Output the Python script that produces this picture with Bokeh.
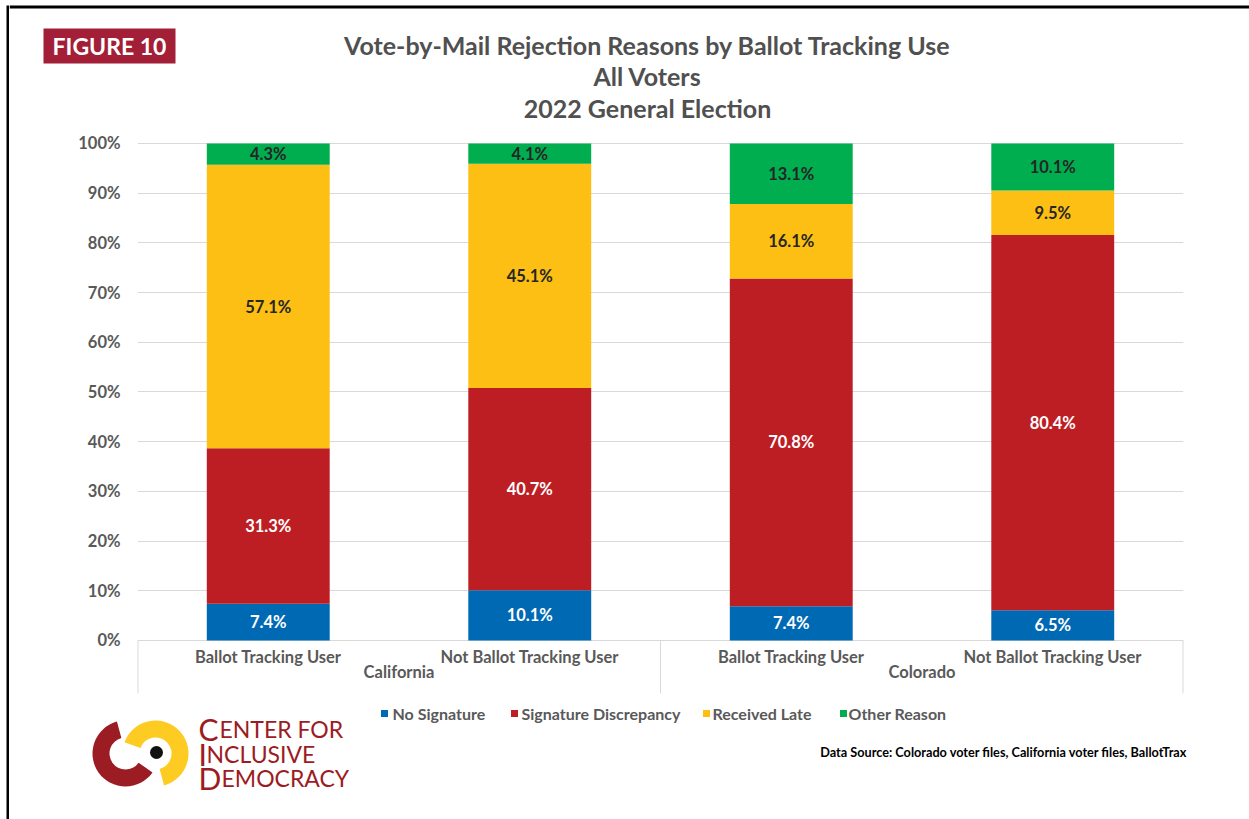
import numpy as np
from bokeh.plotting import figure
from bokeh.models import (ColumnDataSource, FactorRange, Range1d, FixedTicker,
                          PrintfTickFormatter)
from bokeh.layouts import column, row
from bokeh.core.properties import value
from bokeh.embed import file_html
from bokeh.resources import INLINE

# ---------------- data ----------------
groups = ["California", "California", "Colorado", "Colorado"]
subgroups = ["Ballot Tracking User", "Not Ballot Tracking User",
             "Ballot Tracking User", "Not Ballot Tracking User"]
series = ["No Signature", "Signature Discrepancy", "Received Late", "Other Reason"]
no_signature = [7.4, 10.1, 7.4, 6.5]
signature_discrepancy = [31.3, 40.7, 70.8, 80.4]
received_late = [57.1, 45.1, 16.1, 9.5]
other_reason = [4.3, 4.1, 13.1, 10.1]
y_ticks = [0, 10, 20, 30, 40, 50, 60, 70, 80, 90, 100]
title_lines = ["Vote-by-Mail Rejection Reasons by Ballot Tracking Use",
               "All Voters", "2022 General Election"]
figure_tag = "FIGURE 10"
source_note = "Data Source: Colorado voter files, California voter files, BallotTrax"
logo_caps = ["C", "I", "D"]
logo_rest = ["ENTER FOR", "NCLUSIVE", "EMOCRACY"]

# ---------------- styles ----------------
colors = ["#0069B4", "#BD1E24", "#FDBF13", "#00AE4F"]
label_colors = ["#FFFFFF", "#FFFFFF", "#262626", "#262626"]
FONT = value("Lato")
GRAY = "#595959"
GRID = "#D9D9D9"
WL = 9            # left strip holding the black page border
W = 1240          # width of the main column
PX_PER_UNIT = 4.97

factors = list(zip(groups, subgroups))
vals = np.array([no_signature, signature_discrepancy, received_late, other_reason])
pct = vals / vals.sum(axis=0) * 100.0          # 100% stacked, labels show raw values
tops = np.cumsum(pct, axis=0)
bottoms = tops - pct


def blank(width, height, **kw):
    f = figure(width=width, height=height, x_range=Range1d(0, width), y_range=Range1d(0, height),
               output_backend="svg", toolbar_location=None, min_border=0,
               x_axis_location=None, y_axis_location=None, outline_line_color=None,
               frame_align=False, **kw)
    f.grid.visible = False
    return f


# ---------------- left border strip ----------------
H_ALL = 819
pL = blank(WL, H_ALL)
pL.quad(left=[6], right=[9], bottom=[0], top=[H_ALL - 5], fill_color="#000000", line_color=None)

# ---------------- header figure ----------------
H0 = 128
p0 = blank(W, H0)
p0.quad(left=[0], right=[W], bottom=[H0 - 8], top=[H0 - 5], fill_color="#000000", line_color=None)
p0.quad(left=[34], right=[166], bottom=[65], top=[100], fill_color="#A21F37", line_color=None)
p0.text(x=[100], y=[82.5], text=[figure_tag], text_align="center", text_baseline="middle",
        text_font=FONT, text_font_style="bold", text_font_size="23px", text_color="#FFFFFF")
p0.text(x=[638, 638, 638], y=[84, 53, 21], text=title_lines, text_align="center",
        text_baseline="middle", text_font=FONT, text_font_style="bold",
        text_font_size="25px", text_color="#505050")

# ---------------- main chart ----------------
H1 = 572
mb_top, mb_bot = 13, 6
frame_h = H1 - mb_top - mb_bot
y_end = 100.4
y_start = y_end - frame_h / PX_PER_UNIT

p1 = figure(width=W, height=H1,
            x_range=FactorRange(factors=factors, group_padding=0, factor_padding=0, range_padding=0),
            y_range=Range1d(y_start, y_end),
            output_backend="svg", toolbar_location=None, x_axis_location=None,
            min_border_left=128, min_border_right=66, min_border_top=mb_top,
            min_border_bottom=mb_bot, outline_line_color=None, frame_align=False)
p1.xgrid.visible = False
p1.ygrid.grid_line_color = GRID
p1.ygrid.ticker = FixedTicker(ticks=y_ticks)
ax = p1.yaxis[0]
ax.ticker = FixedTicker(ticks=y_ticks)
ax.formatter = PrintfTickFormatter(format="%d%%")
ax.axis_line_color = None
ax.major_tick_line_color = None
ax.minor_tick_line_color = None
ax.major_label_standoff = 11
ax.major_label_text_font = "Lato"
ax.major_label_text_font_style = "bold"
ax.major_label_text_font_size = "16.5px"
ax.major_label_text_color = GRAY

for i, name in enumerate(series):
    src = ColumnDataSource(dict(
        x=factors, bottom=bottoms[i], top=tops[i],
        mid=(bottoms[i] + tops[i]) / 2.0,
        label=[f"{v:.1f}%" for v in vals[i]]))
    p1.vbar(x="x", width=0.47, bottom="bottom", top="top", source=src,
            fill_color=colors[i], line_color=None)
    p1.text(x="x", y="mid", text="label", source=src, text_align="center",
            text_baseline="middle", text_font=FONT, text_font_style="bold",
            text_font_size="16.5px", text_color=label_colors[i])

# category axis drawn in data space below 0
p1.text(x=factors, y=[-3.25] * len(factors), text=subgroups, text_align="center",
        text_baseline="middle", text_font=FONT, text_font_style="bold",
        text_font_size="16.5px", text_color=GRAY)
uniq = list(dict.fromkeys(groups))
gcenters = [np.mean([k + 0.5 for k, g in enumerate(groups) if g == u]) for u in uniq]
p1.text(x=gcenters, y=[-6.3] * len(uniq), text=uniq, text_align="center",
        text_baseline="middle", text_font=FONT, text_font_style="bold",
        text_font_size="16.5px", text_color=GRAY)
bounds = [0] + [k for k in range(1, len(groups)) if groups[k] != groups[k - 1]] + [len(groups)]
sep_bottom = -53 / PX_PER_UNIT
inner = bounds[1:-1]
p1.segment(x0=inner, x1=inner, y0=[0] * len(inner), y1=[sep_bottom] * len(inner),
           line_color=GRID, line_width=1)
edges = [bounds[0], bounds[-1]]
p1.segment(x0=edges, x1=edges, y0=[0, 0], y1=[sep_bottom] * 2, line_color=GRID, line_width=2)

# ---------------- footer figure ----------------
H2 = 119
p2 = blank(W, H2)
leg_sq_x = [375, 505, 697, 834]
leg_tx_x = [383, 512, 703, 839]
p2.rect(x=leg_sq_x, y=[106] * 4, width=7, height=7, fill_color=colors, line_color=None)
p2.text(x=leg_tx_x, y=[106] * 4, text=series, text_align="left", text_baseline="middle",
        text_font=FONT, text_font_style="bold", text_font_size="16px", text_color=GRAY)

# logo
p2.annular_wedge(x=[116], y=[66], inner_radius=16, outer_radius=33,
                 start_angle=np.deg2rad(105), end_angle=np.deg2rad(325),
                 fill_color="#9B1C22", line_color=None)
p2.annular_wedge(x=[146], y=[66], inner_radius=16, outer_radius=33,
                 start_angle=np.deg2rad(-75), end_angle=np.deg2rad(160),
                 fill_color="#FDCB22", line_color=None)
p2.circle(x=[147], y=[67], radius=6.5, fill_color="#111111", line_color=None)
p2.text(x=[189, 189, 189], y=[91, 66, 42], text=logo_caps, text_align="left",
        text_baseline="alphabetic", text_font=FONT, text_font_size="30px", text_color="#9B1C22")
p2.text(x=[210, 197, 212], y=[91, 66, 42], text=logo_rest, text_align="left",
        text_baseline="alphabetic", text_font=FONT, text_font_size="23px", text_color="#9B1C22")
p2.text(x=[1178], y=[68], text=[source_note], text_align="right", text_baseline="middle",
        text_font=FONT, text_font_style="bold", text_font_size="12.7px", text_color="#000000")

layout = row(pL, column(p0, p1, p2))

open("out.html", "w").write(file_html(layout, INLINE))
